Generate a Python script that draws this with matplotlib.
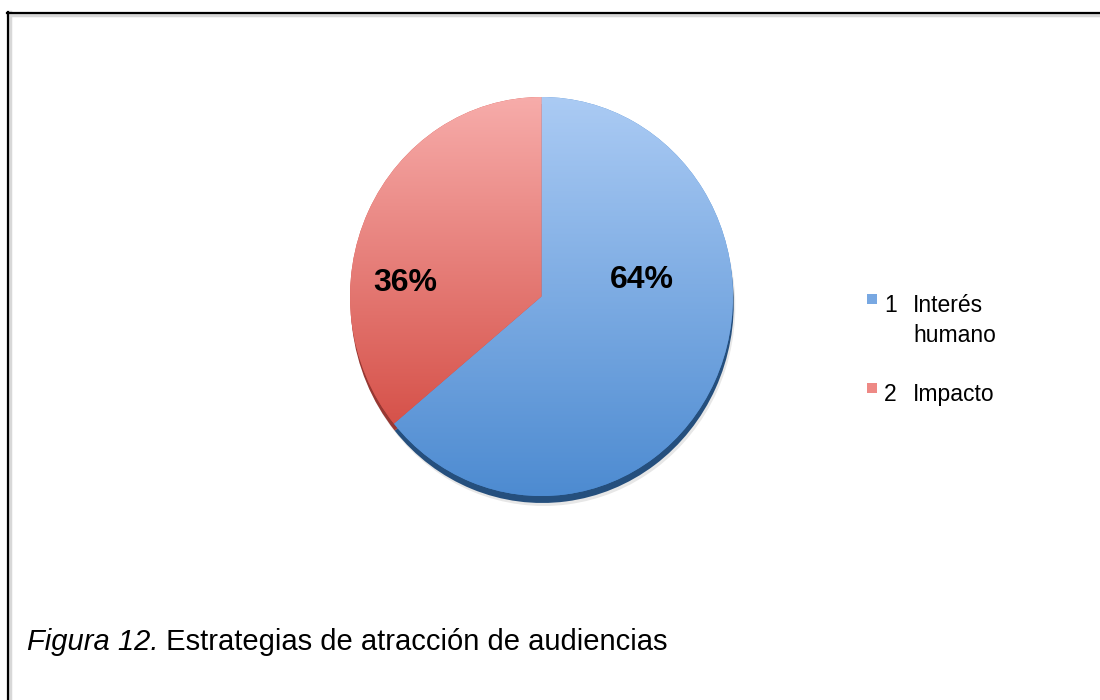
import numpy as np
import matplotlib.pyplot as plt
from matplotlib.colors import LinearSegmentedColormap
from matplotlib.lines import Line2D
from matplotlib.patches import Wedge, Rectangle

plt.rcParams['font.family'] = ['Liberation Sans', 'DejaVu Sans']

# data
cat_numbers = ['1', '2']
categories = ['Interés\nhumano', 'Impacto']
values = [64, 36]
caption_italic = 'Figura 12.'
caption_text = ' Estrategias de atracción de audiencias'

top_colors = ['#abcbf4', '#f7acaa']
bottom_colors = ['#4d8bd1', '#d6524a']
shadow_colors = ['#254f7d', '#973833']
legend_colors = ['#78a8e2', '#ee8985']

W, H = 1100, 700
fig = plt.figure(figsize=(W / 100, H / 100), dpi=100)

# pie axes, placed in pixel terms
cx, cy = 541.5, H - 296.5
rx, ry = 191.5, 199.5
ax = fig.add_axes([(cx - 1.1 * rx) / W, (cy - 1.1 * ry) / H,
                   2.2 * rx / W, 2.2 * ry / H])

wedges, _ = ax.pie(values, startangle=90, counterclock=False,
                   colors=bottom_colors, wedgeprops=dict(linewidth=0))
ax.set_aspect('auto')
ax.axis('off')

# 3d-ish rim under the pie
for w, sc in zip(wedges, shadow_colors):
    ax.add_patch(Wedge((0.012, -0.05), 1.0, w.theta1, w.theta2,
                       color='#bbbbbb', alpha=0.35, zorder=0.3, lw=0))
    ax.add_patch(Wedge((0.004, -0.035), 1.0, w.theta1, w.theta2,
                       color=sc, zorder=0.5, lw=0))

# vertical gradient inside each wedge
grad = np.linspace(0, 1, 256).reshape(-1, 1)
for w, c0, c1 in zip(wedges, bottom_colors, top_colors):
    ext = w.get_path().get_extents()
    cmap = LinearSegmentedColormap.from_list('g', [c0, c1])
    im = ax.imshow(grad, cmap=cmap, origin='lower', aspect='auto',
                   extent=(-1, 1, ext.y0, ext.y1), zorder=1.5,
                   interpolation='bilinear')
    im.set_clip_path(w)
ax.set_xlim(-1.1, 1.1)
ax.set_ylim(-1.1, 1.1)

label_pos = [(0.525, 0.083), (-0.713, 0.068)]
for v, (x, y) in zip(values, label_pos):
    ax.text(x, y, f'{v}%', ha='center', va='center', fontsize=23,
            fontweight='bold', color='black', zorder=3)

# legend
item_base = [312, 401]
for num, cat, base, col in zip(cat_numbers, categories, item_base, legend_colors):
    fig.add_artist(Rectangle((867 / W, (H - base + 8) / H), 10 / W, 10 / H,
                             facecolor=col, edgecolor='none',
                             transform=fig.transFigure))
    fig.text(884 / W, (H - base) / H, num, fontsize=16.5, va='baseline')
    for i, line in enumerate(cat.split('\n')):
        fig.text(913 / W, (H - base - 30 * i) / H, line, fontsize=16.5,
                 va='baseline')

# caption
t1 = fig.text(27 / W, (H - 650) / H, caption_italic, fontsize=21,
              style='italic', va='baseline')
r = fig.canvas.get_renderer()
bb = t1.get_window_extent(r)
fig.text(bb.x1 / W, (H - 650) / H, caption_text, fontsize=21, va='baseline')

# frame lines (top and left only)
fig.add_artist(Line2D([8 / W, 1], [(H - 15) / H] * 2, color='#d8d8d8', lw=2.5))
fig.add_artist(Line2D([10 / W] * 2, [0, (H - 12) / H], color='#d8d8d8', lw=2.5))
fig.add_artist(Line2D([7 / W, 1], [(H - 12.5) / H] * 2, color='black', lw=1.6))
fig.add_artist(Line2D([7.5 / W] * 2, [0, (H - 12) / H], color='black', lw=1.6))

fig.savefig('out.png', dpi=100)
